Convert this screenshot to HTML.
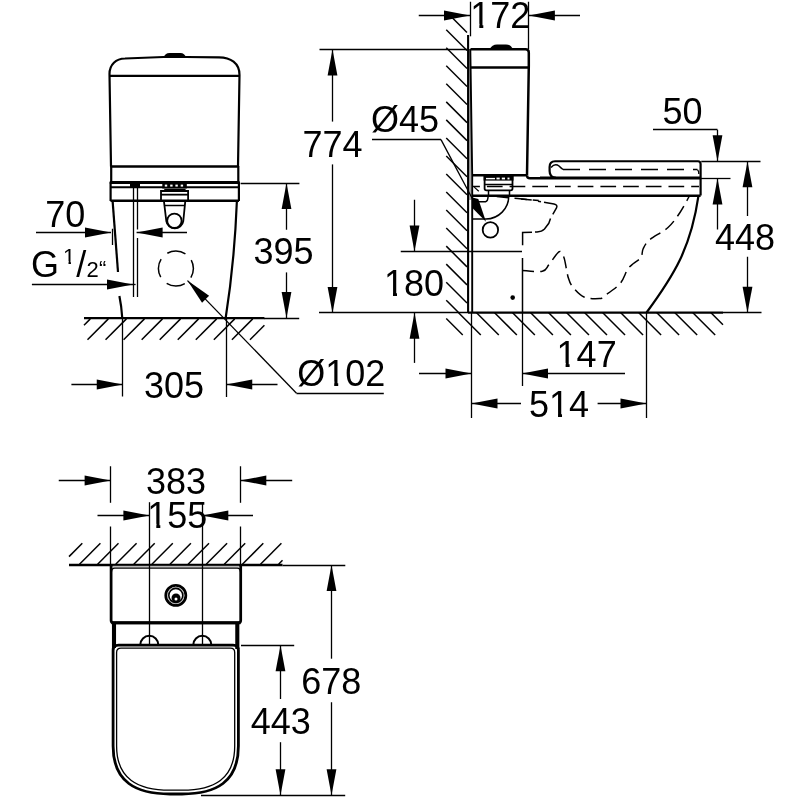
<!DOCTYPE html>
<html><head><meta charset="utf-8"><style>
html,body{margin:0;padding:0;background:#fff;width:800px;height:800px;overflow:hidden}
svg{display:block;will-change:transform}
text{font-family:"Liberation Sans",sans-serif;fill:#000;stroke:none}
</style></head><body>
<svg width="800" height="800" viewBox="0 0 800 800">
<rect width="800" height="800" fill="#fff"/>
<text x="45.25" y="227.20" font-size="36">70</text>
<text x="144.00" y="397.50" font-size="36">305</text>
<text x="253.40" y="264.00" font-size="36">395</text>
<text x="297.20" y="385.60" font-size="36">Ø102</text>
<text x="31.10" y="277.40" font-size="36">G</text>
<text x="63.00" y="263.90" font-size="22">1</text>
<text x="76.25" y="277.40" font-size="36">/</text>
<text x="86.50" y="276.90" font-size="22">2</text>
<text x="99.00" y="276.30" font-size="22">“</text>
<text x="470.30" y="28.00" font-size="36">172</text>
<text x="302.40" y="156.50" font-size="36">774</text>
<text x="371.00" y="132.10" font-size="36">Ø45</text>
<text x="384.00" y="295.50" font-size="36">180</text>
<text x="556.60" y="367.10" font-size="36">147</text>
<text x="529.00" y="416.60" font-size="36">514</text>
<text x="715.00" y="249.75" font-size="36">448</text>
<text x="662.50" y="124.00" font-size="36">50</text>
<text x="146.00" y="493.60" font-size="36">383</text>
<text x="147.30" y="528.00" font-size="36">155</text>
<text x="301.30" y="693.70" font-size="36">678</text>
<text x="250.70" y="734.10" font-size="36">443</text>
<rect x="326.41" y="381.40" width="7.80" height="5.60" fill="#fff"/>
<rect x="338.21" y="381.40" width="7.50" height="5.60" fill="#fff"/>
<rect x="63.73" y="261.10" width="4.77" height="3.89" fill="#fff"/>
<rect x="70.94" y="261.10" width="4.58" height="3.89" fill="#fff"/>
<rect x="471.50" y="23.80" width="7.80" height="5.60" fill="#fff"/>
<rect x="483.30" y="23.80" width="7.50" height="5.60" fill="#fff"/>
<rect x="385.20" y="291.30" width="7.80" height="5.60" fill="#fff"/>
<rect x="397.00" y="291.30" width="7.50" height="5.60" fill="#fff"/>
<rect x="557.80" y="362.90" width="7.80" height="5.60" fill="#fff"/>
<rect x="569.60" y="362.90" width="7.50" height="5.60" fill="#fff"/>
<rect x="550.22" y="412.40" width="7.80" height="5.60" fill="#fff"/>
<rect x="562.02" y="412.40" width="7.50" height="5.60" fill="#fff"/>
<rect x="148.50" y="523.80" width="7.80" height="5.60" fill="#fff"/>
<rect x="160.30" y="523.80" width="7.50" height="5.60" fill="#fff"/>
<g stroke="#000" stroke-linecap="butt" fill="none">
<path d="M111,166.5 L109.5,74 C109.5,64.5 116,58.6 125,58.5 L163.5,57 L186,57 L219,57.3 C230.5,57.4 239.5,63 239.5,75 L238,166.5" stroke-width="2.2" fill="none" />
<path d="M163.4,57.5 Q165,53 169.5,52.9 L180.5,52.9 Q184.5,53 186.3,57.5 Z" fill="#000" stroke="none"/>
<line x1="109.50" y1="75.80" x2="239.30" y2="75.80" stroke-width="2.2" />
<line x1="110.50" y1="166.50" x2="238.50" y2="166.50" stroke-width="2.5" />
<line x1="111.20" y1="166.00" x2="111.20" y2="183.00" stroke-width="2.2" />
<line x1="238.30" y1="166.00" x2="238.30" y2="183.00" stroke-width="2.2" />
<line x1="109.80" y1="182.50" x2="239.60" y2="182.50" stroke-width="3" />
<line x1="110.50" y1="187.20" x2="239.00" y2="187.20" stroke-width="2" />
<rect x="162.3" y="182.5" width="24.5" height="6" fill="#000" stroke="none"/>
<rect x="164.80" y="184.6" width="2.4" height="2" fill="#fff" stroke="none"/>
<rect x="170.20" y="184.6" width="2.4" height="2" fill="#fff" stroke="none"/>
<rect x="175.40" y="184.6" width="2.4" height="2" fill="#fff" stroke="none"/>
<rect x="180.70" y="184.6" width="2.4" height="2" fill="#fff" stroke="none"/>
<rect x="130" y="182.5" width="10" height="4.7" fill="#000" stroke="none"/>
<line x1="110.60" y1="182.00" x2="110.60" y2="201.00" stroke-width="2.2" />
<line x1="238.90" y1="182.00" x2="238.90" y2="201.00" stroke-width="2.2" />
<line x1="110.50" y1="200.80" x2="239.00" y2="200.80" stroke-width="2.6" />
<line x1="164.25" y1="189.50" x2="185.60" y2="189.50" stroke-width="1.2" />
<path d="M161,200.8 L161,191 L188.1,191 L188.1,200.8" stroke-width="1.8" fill="none" />
<line x1="161.00" y1="194.65" x2="188.10" y2="194.65" stroke-width="1.8" />
<path d="M163.9,200.8 L166.3,221 A8.6,8.6 0 0 0 183.3,221 L185.3,200.8" stroke-width="1.8" fill="none" />
<line x1="164.50" y1="205.50" x2="184.50" y2="205.50" stroke-width="1.5" />
<circle cx="174.4" cy="220.75" r="7.2" stroke-width="1.8" fill="none"/>
<line x1="112.60" y1="200.80" x2="118.00" y2="272.00" stroke-width="2.2" />
<path d="M119.4,296 Q121.5,306 122.3,318.5" stroke-width="2.2" fill="none" />
<path d="M236.9,200.8 Q234.5,262 225.6,318.5" stroke-width="2.2" fill="none" />
<line x1="133.50" y1="182.00" x2="133.50" y2="297.00" stroke-width="1.3" />
<line x1="137.50" y1="182.00" x2="137.50" y2="229.50" stroke-width="1.3" />
<line x1="137.50" y1="238.00" x2="137.50" y2="297.00" stroke-width="1.3" />
<circle cx="175.9" cy="268.5" r="17.5" stroke-width="1.5" fill="none" stroke-dasharray="19 8.5" stroke-dashoffset="9.5"/>
<line x1="296.50" y1="393.20" x2="187.50" y2="280.60" stroke-width="1.3" />
<polygon points="187.50,280.60 209.10,295.87 202.06,302.69" fill="#000" stroke="none"/>
<line x1="296.50" y1="393.50" x2="383.80" y2="393.50" stroke-width="1.3" />
<line x1="36.00" y1="232.50" x2="111.00" y2="232.50" stroke-width="1.3" />
<polygon points="111.00,232.50 85.00,237.40 85.00,227.60" fill="#000" stroke="none"/>
<line x1="187.00" y1="232.50" x2="136.60" y2="232.50" stroke-width="1.3" />
<polygon points="136.60,232.50 162.60,227.60 162.60,237.40" fill="#000" stroke="none"/>
<line x1="112.50" y1="228.75" x2="112.50" y2="245.00" stroke-width="1.3" />
<line x1="31.90" y1="284.50" x2="133.00" y2="284.50" stroke-width="1.3" />
<polygon points="133.00,284.50 107.00,289.40 107.00,279.60" fill="#000" stroke="none"/>
<line x1="133.00" y1="284.50" x2="135.60" y2="284.50" stroke-width="1.3" />
<line x1="240.60" y1="183.50" x2="299.40" y2="183.50" stroke-width="1.3" />
<line x1="286.50" y1="229.75" x2="286.50" y2="183.10" stroke-width="1.3" />
<polygon points="286.50,183.10 291.40,209.10 281.60,209.10" fill="#000" stroke="none"/>
<line x1="264.00" y1="318.50" x2="299.20" y2="318.50" stroke-width="1.3" />
<line x1="286.50" y1="272.40" x2="286.50" y2="318.10" stroke-width="1.3" />
<polygon points="286.50,318.10 281.60,292.10 291.40,292.10" fill="#000" stroke="none"/>
<line x1="122.50" y1="318.00" x2="122.50" y2="396.50" stroke-width="1.3" />
<line x1="226.50" y1="318.00" x2="226.50" y2="397.00" stroke-width="1.3" />
<line x1="71.40" y1="384.50" x2="122.75" y2="384.50" stroke-width="1.3" />
<polygon points="122.75,384.50 96.75,389.40 96.75,379.60" fill="#000" stroke="none"/>
<line x1="277.50" y1="384.50" x2="226.25" y2="384.50" stroke-width="1.3" />
<polygon points="226.25,384.50 252.25,379.60 252.25,389.40" fill="#000" stroke="none"/>
<line x1="84.00" y1="318.10" x2="264.40" y2="318.10" stroke-width="2.4" />
<line x1="84.00" y1="325.20" x2="90.30" y2="318.90" stroke-width="1.5" />
<line x1="108.35" y1="318.90" x2="87.50" y2="339.75" stroke-width="1.5" />
<line x1="126.40" y1="318.90" x2="105.55" y2="339.75" stroke-width="1.5" />
<line x1="144.45" y1="318.90" x2="123.60" y2="339.75" stroke-width="1.5" />
<line x1="162.50" y1="318.90" x2="141.65" y2="339.75" stroke-width="1.5" />
<line x1="180.55" y1="318.90" x2="159.70" y2="339.75" stroke-width="1.5" />
<line x1="198.60" y1="318.90" x2="177.75" y2="339.75" stroke-width="1.5" />
<line x1="216.65" y1="318.90" x2="195.80" y2="339.75" stroke-width="1.5" />
<line x1="234.70" y1="318.90" x2="213.85" y2="339.75" stroke-width="1.5" />
<line x1="252.75" y1="318.90" x2="231.90" y2="339.75" stroke-width="1.5" />
<line x1="264.40" y1="325.30" x2="249.95" y2="339.75" stroke-width="1.5" />
<line x1="469.9" y1="49" x2="470.2" y2="200" stroke="#aaa" stroke-width="2.2"/>
<line x1="468.10" y1="35.00" x2="468.10" y2="312.50" stroke-width="2.1" />
<path d="M470.3,49 L472.2,175 L472.2,312.5" stroke-width="1.9" fill="none" />
<line x1="467.00" y1="32.47" x2="452.53" y2="18.00" stroke-width="1.5" />
<line x1="446.25" y1="29.75" x2="467.00" y2="50.50" stroke-width="1.5" />
<line x1="446.25" y1="47.78" x2="467.00" y2="68.53" stroke-width="1.5" />
<line x1="446.25" y1="65.81" x2="467.00" y2="86.56" stroke-width="1.5" />
<line x1="446.25" y1="83.84" x2="467.00" y2="104.59" stroke-width="1.5" />
<line x1="446.25" y1="101.87" x2="467.00" y2="122.62" stroke-width="1.5" />
<line x1="446.25" y1="119.90" x2="467.00" y2="140.65" stroke-width="1.5" />
<line x1="446.25" y1="137.93" x2="467.00" y2="158.68" stroke-width="1.5" />
<line x1="446.25" y1="155.96" x2="467.00" y2="176.71" stroke-width="1.5" />
<line x1="446.25" y1="173.99" x2="467.00" y2="194.74" stroke-width="1.5" />
<line x1="446.25" y1="192.02" x2="467.00" y2="212.77" stroke-width="1.5" />
<line x1="446.25" y1="210.05" x2="467.00" y2="230.80" stroke-width="1.5" />
<line x1="446.25" y1="228.08" x2="467.00" y2="248.83" stroke-width="1.5" />
<line x1="446.25" y1="246.11" x2="467.00" y2="266.86" stroke-width="1.5" />
<line x1="446.25" y1="264.14" x2="467.00" y2="284.89" stroke-width="1.5" />
<line x1="446.25" y1="282.17" x2="467.00" y2="302.92" stroke-width="1.5" />
<line x1="446.25" y1="300.20" x2="458.55" y2="312.50" stroke-width="1.5" />
<line x1="446.25" y1="318.50" x2="462.75" y2="335.00" stroke-width="1.5" />
<line x1="458.28" y1="312.50" x2="480.78" y2="335.00" stroke-width="1.5" />
<line x1="476.31" y1="312.50" x2="498.81" y2="335.00" stroke-width="1.5" />
<line x1="494.34" y1="312.50" x2="516.84" y2="335.00" stroke-width="1.5" />
<line x1="512.37" y1="312.50" x2="534.87" y2="335.00" stroke-width="1.5" />
<line x1="530.40" y1="312.50" x2="552.90" y2="335.00" stroke-width="1.5" />
<line x1="548.43" y1="312.50" x2="570.93" y2="335.00" stroke-width="1.5" />
<line x1="566.46" y1="312.50" x2="588.96" y2="335.00" stroke-width="1.5" />
<line x1="584.49" y1="312.50" x2="606.99" y2="335.00" stroke-width="1.5" />
<line x1="602.52" y1="312.50" x2="625.02" y2="335.00" stroke-width="1.5" />
<line x1="620.55" y1="312.50" x2="643.05" y2="335.00" stroke-width="1.5" />
<line x1="638.58" y1="312.50" x2="661.08" y2="335.00" stroke-width="1.5" />
<line x1="656.61" y1="312.50" x2="679.11" y2="335.00" stroke-width="1.5" />
<line x1="674.64" y1="312.50" x2="697.14" y2="335.00" stroke-width="1.5" />
<line x1="692.67" y1="312.50" x2="715.17" y2="335.00" stroke-width="1.5" />
<line x1="723.00" y1="324.80" x2="710.70" y2="312.50" stroke-width="1.5" />
<line x1="468.00" y1="312.70" x2="723.00" y2="312.70" stroke-width="2.2" />
<line x1="723.00" y1="312.50" x2="761.50" y2="312.50" stroke-width="1.3" />
<line x1="319.00" y1="312.50" x2="468.00" y2="312.50" stroke-width="1.3" />
<path d="M470.5,49.2 L525.5,49.2 Q528.8,49.2 528.8,52.5 L528.8,66 L527,175.5" stroke-width="2.5" fill="none" />
<path d="M489.5,49.5 Q492,44.5 497,44.5 L506,44.5 Q511,44.5 513,49.5 Z" fill="#000" stroke="none"/>
<line x1="470.50" y1="67.50" x2="528.80" y2="67.50" stroke-width="2.7" />
<line x1="472.00" y1="175.30" x2="527.00" y2="175.30" stroke-width="2.4" />
<path d="M527,175.5 Q527,178.2 530,178.2 L540,178.2" stroke-width="2.4" fill="none" />
<line x1="540.00" y1="178.00" x2="700.60" y2="178.00" stroke-width="3.2" />
<path d="M558,161.25 L698,161.25 Q700.6,161.25 700.6,164 L700.6,195.5" stroke-width="2.2" fill="none" />
<path d="M558,161.25 L555,161.25 C551,161.25 549.6,163.5 549.6,167 L549.6,171 C549.6,175.5 551.5,177.6 556,177.9" stroke-width="2.2" fill="none" />
<path d="M551,167.5 Q555,163 559,166 Q561,168 563,169.5" stroke-width="1.5" fill="none" />
<line x1="563.00" y1="169.50" x2="697.50" y2="169.50" stroke-width="1.5" stroke-dasharray="17 9"/>
<path d="M697.5,169.8 Q699,171 698.8,174" stroke-width="1.3" fill="none" />
<line x1="472.00" y1="186.50" x2="699.00" y2="186.50" stroke-width="1.5" stroke-dasharray="15.7 7" stroke-dashoffset="7.8"/>
<line x1="472.00" y1="195.70" x2="700.60" y2="195.70" stroke-width="2.4" />
<path d="M698.5,195.7 C690.9,248.1 674,275.3 646.6,312.5" stroke-width="2.2" fill="none" />
<rect x="483.6" y="175" width="29.9" height="5.6" fill="#000" stroke="none"/>
<rect x="486" y="177.9" width="9" height="1.4" fill="#fff" stroke="none"/>
<rect x="496.5" y="177.6" width="3.2" height="1.8" fill="#fff" stroke="none"/>
<rect x="501.8" y="177.6" width="3.2" height="1.8" fill="#fff" stroke="none"/>
<rect x="507.5" y="177.6" width="2" height="1.8" fill="#fff" stroke="none"/>
<path d="M484.6,176 L484.6,188.5 Q484.6,190.3 486.5,190.3 L510.6,190.3 Q512.5,190.3 512.5,188.5 L512.5,176" stroke-width="1.8" fill="none" />
<line x1="484.00" y1="184.50" x2="513.00" y2="184.50" stroke-width="1.5" />
<line x1="488.50" y1="190.30" x2="488.50" y2="195.70" stroke-width="1.5" />
<line x1="509.50" y1="190.30" x2="509.50" y2="195.70" stroke-width="1.5" />
<path d="M508.75,195.7 A23,23 0 0 1 485.9,219 L472,219" stroke-width="1.5" fill="none" />
<path d="M478,201.75 L485.5,201.75 Q488.1,201 488.1,196" stroke-width="1.5" fill="none" />
<line x1="474.25" y1="187.10" x2="478.75" y2="191.25" stroke-width="1.2" />
<polygon points="472.4,197.4 478.3,198.9 486,221.8 472.4,207.9" fill="#000" stroke="none"/>
<line x1="441.00" y1="139.60" x2="472.50" y2="199.00" stroke-width="1.3" />
<line x1="372.00" y1="139.50" x2="441.00" y2="139.50" stroke-width="1.3" />
<circle cx="490.4" cy="229.9" r="7.7" stroke-width="1.8" fill="none"/>
<path d="M496.75,196.50 C503.75,197.18 531.75,199.92 538.75,200.60" stroke-width="1.5" fill="none" stroke-dasharray="12 6"/>
<path d="M521.1,199 L531.7,200.1" stroke-width="1.5" fill="none" />
<path d="M538,201.2 L541,201.7" stroke-width="1.5" fill="none" />
<path d="M544,202.2 L554,203.9 Q558,204.8 556.5,208 L552.8,214.4" stroke-width="1.5" fill="none" />
<path d="M550.5,218.5 L548.8,223.3 L544.5,229 Q542,231.6 537,232 L535,232.1" stroke-width="1.5" fill="none" />
<path d="M532,232.3 L522.6,232.6 L522.6,245.3" stroke-width="1.5" fill="none" />
<line x1="522.50" y1="258.00" x2="522.50" y2="312.50" stroke-width="1.5" />
<path d="M522.00,270.50 C525.38,270.63 537.83,272.25 542.30,271.30 C546.77,270.35 546.52,267.52 548.80,264.80 C551.08,262.08 554.10,257.22 556.00,255.00 C557.90,252.78 558.83,250.95 560.20,251.50 C561.57,252.05 562.85,253.92 564.20,258.30 C565.55,262.68 566.80,272.92 568.30,277.80 C569.80,282.68 570.50,284.35 573.20,287.60 C575.90,290.85 580.03,295.47 584.50,297.30 C588.97,299.13 596.83,298.73 600.00,298.60 C603.17,298.47 600.17,298.98 603.50,296.50 C606.83,294.02 616.00,288.25 620.00,283.75 C624.00,279.25 625.25,272.88 627.50,269.50 C629.75,266.12 631.25,265.50 633.50,263.50 C635.75,261.50 639.38,260.00 641.00,257.50 C642.62,255.00 641.75,251.50 643.25,248.50 C644.75,245.50 645.88,243.00 650.00,239.50 C654.12,236.00 663.00,232.00 668.00,227.50 C673.00,223.00 676.50,217.62 680.00,212.50 C683.50,207.38 687.50,199.38 689.00,196.75" stroke-width="1.5" fill="none" stroke-dasharray="12 6"/>
<circle cx="512.7" cy="297.6" r="2.3" fill="#000" stroke="none"/>
<line x1="470.50" y1="1.75" x2="470.50" y2="36.30" stroke-width="1.3" />
<line x1="528.50" y1="1.75" x2="528.50" y2="49.00" stroke-width="1.3" />
<line x1="418.75" y1="15.50" x2="470.00" y2="15.50" stroke-width="1.3" />
<polygon points="470.00,15.50 444.00,20.40 444.00,10.60" fill="#000" stroke="none"/>
<line x1="580.00" y1="15.50" x2="528.90" y2="15.50" stroke-width="1.3" />
<polygon points="528.90,15.50 554.90,10.60 554.90,20.40" fill="#000" stroke="none"/>
<line x1="319.50" y1="49.50" x2="467.00" y2="49.50" stroke-width="1.3" />
<line x1="332.50" y1="121.60" x2="332.50" y2="49.50" stroke-width="1.3" />
<polygon points="332.50,49.50 337.40,75.50 327.60,75.50" fill="#000" stroke="none"/>
<line x1="332.50" y1="164.40" x2="332.50" y2="312.90" stroke-width="1.3" />
<polygon points="332.50,312.90 327.60,286.90 337.40,286.90" fill="#000" stroke="none"/>
<line x1="400.75" y1="251.50" x2="522.00" y2="251.50" stroke-width="1.3" />
<line x1="414.50" y1="199.75" x2="414.50" y2="251.60" stroke-width="1.3" />
<polygon points="414.50,251.60 409.60,225.60 419.40,225.60" fill="#000" stroke="none"/>
<line x1="414.50" y1="362.90" x2="414.50" y2="312.70" stroke-width="1.3" />
<polygon points="414.50,312.70 419.40,338.70 409.60,338.70" fill="#000" stroke="none"/>
<line x1="471.50" y1="312.50" x2="471.50" y2="418.00" stroke-width="1.3" />
<line x1="522.50" y1="312.50" x2="522.50" y2="386.00" stroke-width="1.3" />
<line x1="419.00" y1="373.50" x2="471.50" y2="373.50" stroke-width="1.3" />
<polygon points="471.50,373.50 445.50,378.40 445.50,368.60" fill="#000" stroke="none"/>
<line x1="625.00" y1="373.50" x2="522.00" y2="373.50" stroke-width="1.3" />
<polygon points="522.00,373.50 548.00,368.60 548.00,378.40" fill="#000" stroke="none"/>
<line x1="646.50" y1="312.50" x2="646.50" y2="418.00" stroke-width="1.3" />
<line x1="521.00" y1="403.50" x2="471.50" y2="403.50" stroke-width="1.3" />
<polygon points="471.50,403.50 497.50,398.60 497.50,408.40" fill="#000" stroke="none"/>
<line x1="597.60" y1="403.50" x2="646.50" y2="403.50" stroke-width="1.3" />
<polygon points="646.50,403.50 620.50,408.40 620.50,398.60" fill="#000" stroke="none"/>
<line x1="701.25" y1="161.50" x2="760.50" y2="161.50" stroke-width="1.3" />
<line x1="701.00" y1="178.50" x2="730.50" y2="178.50" stroke-width="1.3" />
<line x1="747.50" y1="216.00" x2="747.50" y2="161.25" stroke-width="1.3" />
<polygon points="747.50,161.25 752.40,187.25 742.60,187.25" fill="#000" stroke="none"/>
<line x1="747.50" y1="256.75" x2="747.50" y2="312.70" stroke-width="1.3" />
<polygon points="747.50,312.70 742.60,286.70 752.40,286.70" fill="#000" stroke="none"/>
<line x1="653.00" y1="129.50" x2="717.45" y2="129.50" stroke-width="1.3" />
<line x1="717.50" y1="129.75" x2="717.50" y2="161.25" stroke-width="1.3" />
<polygon points="717.50,161.25 712.60,135.25 722.40,135.25" fill="#000" stroke="none"/>
<line x1="717.50" y1="229.50" x2="717.50" y2="178.50" stroke-width="1.3" />
<polygon points="717.50,178.50 722.40,204.50 712.60,204.50" fill="#000" stroke="none"/>
<line x1="69.00" y1="565.00" x2="282.50" y2="565.00" stroke-width="2.4" />
<line x1="282.50" y1="565.50" x2="345.30" y2="565.50" stroke-width="1.3" />
<line x1="69.00" y1="556.60" x2="82.30" y2="543.30" stroke-width="1.5" />
<line x1="100.40" y1="543.30" x2="79.50" y2="564.20" stroke-width="1.5" />
<line x1="118.50" y1="543.30" x2="97.60" y2="564.20" stroke-width="1.5" />
<line x1="136.60" y1="543.30" x2="115.70" y2="564.20" stroke-width="1.5" />
<line x1="154.70" y1="543.30" x2="133.80" y2="564.20" stroke-width="1.5" />
<line x1="172.80" y1="543.30" x2="151.90" y2="564.20" stroke-width="1.5" />
<line x1="190.90" y1="543.30" x2="170.00" y2="564.20" stroke-width="1.5" />
<line x1="209.00" y1="543.30" x2="188.10" y2="564.20" stroke-width="1.5" />
<line x1="227.10" y1="543.30" x2="206.20" y2="564.20" stroke-width="1.5" />
<line x1="245.20" y1="543.30" x2="224.30" y2="564.20" stroke-width="1.5" />
<line x1="263.30" y1="543.30" x2="242.40" y2="564.20" stroke-width="1.5" />
<line x1="281.40" y1="543.30" x2="260.50" y2="564.20" stroke-width="1.5" />
<line x1="282.50" y1="560.30" x2="278.60" y2="564.20" stroke-width="1.5" />
<rect x="112.5" y="565.8" width="126.5" height="1.8" fill="#bbb" stroke="none"/>
<path d="M111.1,565 L111.1,620.5 Q111.1,622.8 113.6,622.8 L238.2,622.8 Q240.7,622.8 240.7,620.5 L240.7,565" stroke-width="2.75" fill="none" />
<line x1="111.50" y1="622.80" x2="240.50" y2="622.80" stroke-width="3.0" />
<path d="M111.6,571.5 Q111.6,568.2 114.8,568.2 L237.2,568.2 Q240.3,568.2 240.3,571.5" stroke-width="1.3" fill="none" />
<circle cx="175.8" cy="595.4" r="10" stroke-width="2.8" fill="none"/>
<circle cx="175.8" cy="595.4" r="8.2" stroke-width="0.8" stroke="#aaa" fill="none"/>
<circle cx="175.8" cy="595.4" r="7" stroke-width="1.6" fill="none"/>
<circle cx="176" cy="598" r="4.5" fill="#000" stroke="none"/>
<circle cx="176" cy="599" r="1.5" fill="#fff" stroke="none"/>
<line x1="114.00" y1="622.80" x2="114.00" y2="648.00" stroke-width="4.1" />
<line x1="237.30" y1="622.80" x2="237.30" y2="649.00" stroke-width="4.1" />
<path d="M140.3,644.8 A9,9 0 0 1 158.3,644.8" stroke-width="2" fill="none" />
<path d="M193.3,644.8 A9,9 0 0 1 211.3,644.8" stroke-width="2" fill="none" />
<path d="M113.1,746 L113.1,650.5 Q113.1,645.1 118.5,645.1 L233,645.1 Q238.4,645.1 238.4,650.5 L238.4,746 C238.4,782 216,794 182,794 L170,794 C136,794 113.1,782 113.1,746 Z" stroke-width="2.8" fill="none" />
<path d="M116.6,746 L116.6,652.5 Q116.6,648.2 121,648.2 L230.5,648.2 Q234.7,648.2 234.7,652.5 L234.7,746 C234.7,779 214,790.2 182,790.2 L170,790.2 C138,790.2 116.6,779 116.6,746 Z" stroke-width="1.3" fill="none" />
<line x1="110.50" y1="466.25" x2="110.50" y2="502.80" stroke-width="1.3" />
<line x1="110.50" y1="526.50" x2="110.50" y2="565.00" stroke-width="1.3" />
<line x1="240.50" y1="466.25" x2="240.50" y2="502.80" stroke-width="1.3" />
<line x1="240.50" y1="526.50" x2="240.50" y2="565.00" stroke-width="1.3" />
<line x1="58.75" y1="480.50" x2="110.60" y2="480.50" stroke-width="1.3" />
<polygon points="110.60,480.50 84.60,485.40 84.60,475.60" fill="#000" stroke="none"/>
<line x1="292.20" y1="480.50" x2="240.30" y2="480.50" stroke-width="1.3" />
<polygon points="240.30,480.50 266.30,475.60 266.30,485.40" fill="#000" stroke="none"/>
<line x1="149.50" y1="502.20" x2="149.50" y2="644.00" stroke-width="1.3" />
<line x1="202.50" y1="502.20" x2="202.50" y2="644.00" stroke-width="1.3" />
<line x1="97.50" y1="515.50" x2="149.40" y2="515.50" stroke-width="1.3" />
<polygon points="149.40,515.50 123.40,520.40 123.40,510.60" fill="#000" stroke="none"/>
<line x1="253.00" y1="515.50" x2="202.30" y2="515.50" stroke-width="1.3" />
<polygon points="202.30,515.50 228.30,510.60 228.30,520.40" fill="#000" stroke="none"/>
<line x1="331.50" y1="658.70" x2="331.50" y2="565.00" stroke-width="1.3" />
<polygon points="331.50,565.00 336.40,591.00 326.60,591.00" fill="#000" stroke="none"/>
<line x1="331.50" y1="702.25" x2="331.50" y2="795.30" stroke-width="1.3" />
<polygon points="331.50,795.30 326.60,769.30 336.40,769.30" fill="#000" stroke="none"/>
<line x1="201.00" y1="795.50" x2="345.20" y2="795.50" stroke-width="1.3" />
<line x1="241.00" y1="645.50" x2="294.20" y2="645.50" stroke-width="1.3" />
<line x1="280.50" y1="699.00" x2="280.50" y2="645.20" stroke-width="1.3" />
<polygon points="280.50,645.20 285.40,671.20 275.60,671.20" fill="#000" stroke="none"/>
<line x1="280.50" y1="742.20" x2="280.50" y2="795.30" stroke-width="1.3" />
<polygon points="280.50,795.30 275.60,769.30 285.40,769.30" fill="#000" stroke="none"/>
</g>
</svg>
</body></html>
